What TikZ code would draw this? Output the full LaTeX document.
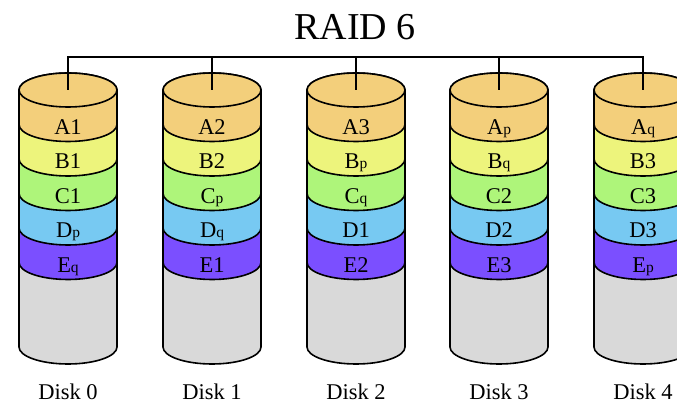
\documentclass[tikz,border=0pt]{standalone}
\usepackage{fontspec}
\setmainfont{Liberation Serif}

\definecolor{layerA}{HTML}{F3CF7B}
\definecolor{layerB}{HTML}{EDF47C}
\definecolor{layerC}{HTML}{AEF57A}
\definecolor{layerD}{HTML}{77C9F2}
\definecolor{layerE}{HTML}{7B4FFF}
\definecolor{diskgrey}{HTML}{D9D9D9}

\newcommand*{\rX}{49}
\newcommand*{\rY}{17}
\newcommand*{\xFirst}{68}
\newcommand*{\dX}{143.75}
\newcommand*{\band}{34.5}
\newcommand*{\yTop}{314}
\newcommand*{\yBot}{57}
\newcommand*{\sub}[1]{{\fontsize{15.5}{15.5}\selectfont #1}}

\begin{document}
\begin{tikzpicture}[x=1pt,y=1pt,line width=1.6pt,
    blocklabel/.style={font=\fontsize{22.5}{22.5}\selectfont,inner sep=0pt,anchor=base},
    disklabel/.style={font=\fontsize{22.5}{22.5}\selectfont,inner sep=0pt,anchor=base}]
\useasboundingbox (0,0) rectangle (677,404);

% title
\node[font=\fontsize{38}{38}\selectfont,inner sep=0pt,anchor=base] (title) at (355,364) {RAID 6};
\coordinate (bus) at (0,347);

% disks with their stripes
\foreach \d/\la/\lb/\lc/\ld/\le in {0/A1/B1/C1/D\sub{p}/E\sub{q},
                                   1/A2/B2/C\sub{p}/D\sub{q}/E1,
                                   2/A3/B\sub{p}/C\sub{q}/D1/E2,
                                   3/A\sub{p}/B\sub{q}/C2/D2/E3,
                                   4/A\sub{q}/B3/C3/D3/E\sub{p}} {
    \pgfmathsetmacro{\cx}{round(\xFirst+\d*\dX)}
    % empty part of the disk
    \filldraw[fill=diskgrey] (\cx-\rX,\yTop-5*\band) -- (\cx-\rX,\yBot)
        arc[start angle=180,end angle=360,x radius=\rX,y radius=\rY]
        -- (\cx+\rX,\yTop-5*\band)
        arc[start angle=0,end angle=180,x radius=\rX,y radius=\rY] -- cycle;
    % stripes, bottom one first
    \foreach \k/\c in {4/layerE,3/layerD,2/layerC,1/layerB,0/layerA} {
        \filldraw[fill=\c] (\cx-\rX,\yTop-\k*\band) -- (\cx-\rX,\yTop-\k*\band-\band)
            arc[start angle=180,end angle=360,x radius=\rX,y radius=\rY]
            -- (\cx+\rX,\yTop-\k*\band)
            arc[start angle=0,end angle=180,x radius=\rX,y radius=\rY] -- cycle;
    }
    % top of the disk
    \filldraw[fill=layerA] (\cx,\yTop) ellipse[x radius=\rX,y radius=\rY];
    \coordinate (top\d) at (\cx,\yTop);
    % stripe labels
    \node[blocklabel] (a\d) at (\cx,\yTop-0.5*\band-\rY-10) {\la};
    \node[blocklabel] (b\d) at (\cx,\yTop-1.5*\band-\rY-10) {\lb};
    \node[blocklabel] (c\d) at (\cx,\yTop-2.5*\band-\rY-10) {\lc};
    \node[blocklabel] (d\d) at (\cx,\yTop-3.5*\band-\rY-10) {\ld};
    \node[blocklabel] (e\d) at (\cx,\yTop-4.5*\band-\rY-10) {\le};
    \node[disklabel] (disk\d) at (\cx,5) {Disk \d};
}

% controller lines
\draw (top0) |- (top4 |- bus) -- (top4);
\foreach \d in {1,2,3} {
    \draw (top\d) -- (top\d |- bus);
}

\end{tikzpicture}
\end{document}
